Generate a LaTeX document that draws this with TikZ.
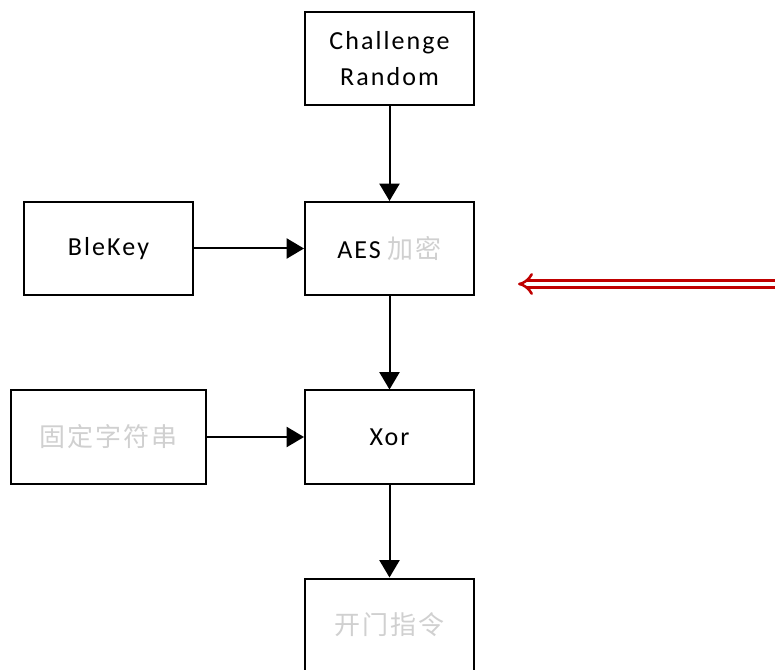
\documentclass[tikz,border=0pt]{standalone}
\usepackage{fontspec}
\setmainfont{Carlito}[LetterSpace=8]
\newfontfamily\cjk{Noto Sans CJK SC}[LetterSpace=8]
\usetikzlibrary{arrows.meta}
\definecolor{deepred}{HTML}{C00000}
\definecolor{faint}{HTML}{D0D0D0}
\begin{document}
\begin{tikzpicture}[x=0.75pt,y=-0.75pt,
  box/.style={draw=black, line width=1.5pt, fill=white, inner sep=0pt,
              minimum width=126.75pt, minimum height=69.75pt,
              align=center, font=\fontsize{19.5}{27}\selectfont},
  flow/.style={line width=1.5pt, -{Triangle[length=13pt,width=15pt]}}]
\useasboundingbox (0,0) rectangle (775,670);
\clip (0,0) rectangle (775,670);
\fill[white] (0,0) rectangle (775,670);

% boxes
\node[box] (chal) at (389.5,58.5) {Challenge\\Random};
\node[box] (aes)  at (389.5,248.5) {AES\hspace{5pt}{\cjk\color{faint}加密}};
\node[box] (key)  at (108.5,248.5) {BleKey};
\node[box, minimum width=146.25pt] (fix) at (108.5,437) {{\cjk\color{faint}固定字符串}};
\node[box] (xor)  at (389.5,437) {Xor};
\node[box] (cmd)  at (389.5,625) {{\cjk\color{faint}开门指令}};

% connectors
\draw[flow] (chal.south) -- (aes.north);
\draw[flow] (key.east) -- (aes.west);
\draw[flow] (aes.south) -- (xor.north);
\draw[flow] (fix.east) -- (xor.west);
\draw[flow] (xor.south) -- (cmd.north);

% red hollow pointer
\coordinate (pstart) at (790,284);
\coordinate (ptip) at (518,284);
\draw[deepred, line width=1.9pt, double=white, double distance=3.6pt,
      -{Implies[length=11pt]}] (pstart) -- (ptip);
\end{tikzpicture}
\end{document}
